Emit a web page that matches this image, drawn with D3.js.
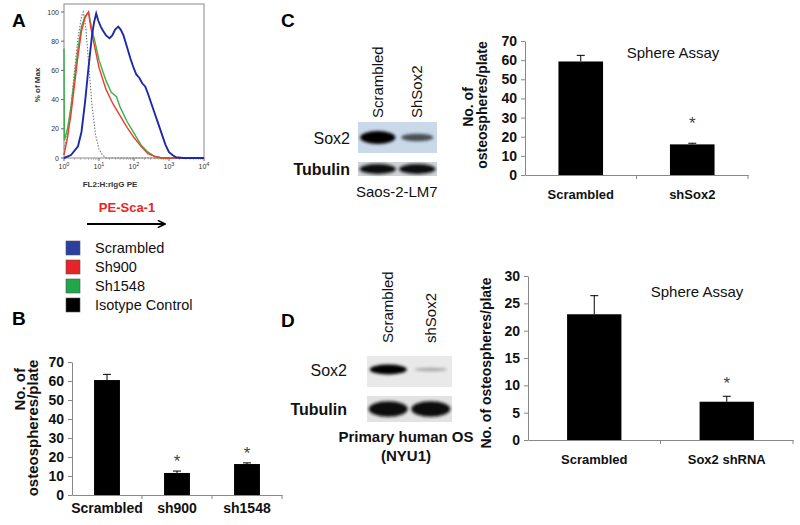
<!DOCTYPE html>
<html><head><meta charset="utf-8">
<script src="https://cdn.jsdelivr.net/npm/d3@7"></script>
<style>
body{margin:0;background:#fff;}
svg{font-family:"Liberation Sans",Arial,sans-serif;}
.ax path,.ax line{stroke:#888;stroke-width:1;}
.ax text{font-weight:bold;font-size:14px;fill:#111;}
</style></head><body>
<svg id="c" width="800" height="525"></svg>
<script>
// ---------- DATA ----------
// Panel A histogram: [log10(FL2), % of Max]
const histScrambled = [[0,0],[0.2,2],[0.4,8],[0.5,18],[0.6,38],[0.7,62],[0.8,84],[0.86,93],[0.92,99],[0.98,94],[1.05,90],[1.12,87],[1.2,84],[1.3,82],[1.38,84],[1.46,88],[1.55,90],[1.62,88],[1.7,84],[1.8,76],[1.9,68],[2.0,61],[2.07,57],[2.15,55],[2.24,51],[2.32,49],[2.4,44],[2.5,37],[2.6,30],[2.7,23],[2.8,16],[2.9,9],[3.0,4],[3.1,2],[3.2,0.5],[3.4,0],[4,0]];
const histSh900 = [[0,2],[0.1,14],[0.2,30],[0.3,50],[0.4,70],[0.5,87],[0.6,96],[0.7,100],[0.76,90],[0.86,78],[1.0,62],[1.2,47],[1.4,37],[1.6,29],[1.8,21],[2.0,14],[2.2,8],[2.4,3],[2.6,1],[2.8,0],[4,0]];
const histSh1548 = [[0,75],[0.01,12],[0.1,20],[0.2,35],[0.3,55],[0.4,75],[0.5,90],[0.6,97],[0.7,100],[0.8,88],[0.9,78],[1.0,67],[1.2,53],[1.35,45],[1.5,42],[1.6,35],[1.8,25],[2.0,17],[2.2,9],[2.4,4],[2.6,1],[2.8,0],[4,0]];
const histIsotype = [[0,6],[0.1,16],[0.2,36],[0.3,60],[0.4,82],[0.5,97],[0.55,100],[0.62,90],[0.7,66],[0.8,36],[0.9,16],[1.0,6],[1.1,2],[1.2,0],[4,0]];
const histYTicks = [0,20,40,60,80,100];
const histXTicks = [0,1,2,3,4];
const legendLabels = ["Scrambled","Sh900","Sh1548","Isotype Control"];

// Panel B
const catsB = ["Scrambled","sh900","sh1548"];
const valsB = [60.5,11.6,16.3];
const errB = [63.5,12.6,16.9];
const sigB = [false,true,true];
const ticksB = [0,10,20,30,40,50,60,70];

// Panel C
const catsC = ["Scrambled","shSox2"];
const valsC = [59.3,16.0];
const errC = [62.5,16.6];
const sigC = [false,true];
const ticksC = [0,10,20,30,40,50,60,70];

// Panel D
const catsD = ["Scrambled","Sox2 shRNA"];
const valsD = [23.0,7.0];
const errD = [26.4,8.0];
const sigD = [false,true];
const ticksD = [0,5,10,15,20,25,30];

// Western blots (band intensity 0..1)
const lanesC = ["Scrambled","ShSox2"];
const sox2C = [1.0,0.45];
const tubC = [1.0,1.0];
const lanesD = ["Scrambled","shSox2"];
const sox2D = [0.85,0.08];
const tubD = [1.0,1.0];

// ---------- DRAW ----------
const svg = d3.select("#c");
const F = '"Liberation Sans",Arial,sans-serif';
const defs = svg.append("defs");
defs.append("filter").attr("id","blur").attr("x","-30%").attr("y","-100%").attr("width","160%").attr("height","300%")
  .append("feGaussianBlur").attr("stdDeviation","1.6");

function label(t,x,y){svg.append("text").attr("x",x).attr("y",y).attr("font-size",19).attr("font-weight","bold").text(t);}
label("A",12,27); label("B",12,325); label("C",281,27); label("D",281,327);

// ---- Panel A ----
const hx = d3.scaleLinear().domain([0,4]).range([64,204]);
const hy = d3.scaleLinear().domain([0,100]).range([158,12]);
const gA = svg.append("g");
gA.append("rect").attr("x",64).attr("y",4).attr("width",140).attr("height",154).attr("fill","none").attr("stroke","#888").attr("stroke-width",1);
histYTicks.forEach(t=>{
  gA.append("line").attr("x1",61).attr("x2",64).attr("y1",hy(t)).attr("y2",hy(t)).attr("stroke","#666");
  gA.append("text").attr("x",59).attr("y",hy(t)+2.5).attr("text-anchor","end").attr("font-size",7).attr("fill","#333").text(t);
});
histXTicks.forEach(t=>{
  gA.append("line").attr("x1",hx(t)).attr("x2",hx(t)).attr("y1",158).attr("y2",161).attr("stroke","#666");
  const tx = gA.append("text").attr("x",hx(t)).attr("y",169).attr("text-anchor","middle").attr("font-size",7).attr("fill","#333");
  tx.append("tspan").text("10");
  tx.append("tspan").attr("dy",-3).attr("font-size",5.5).text(t);
});
for(let d=0; d<4; d++){for(let m=2;m<10;m++){const v=d+Math.log10(m);
  gA.append("line").attr("x1",hx(v)).attr("x2",hx(v)).attr("y1",158).attr("y2",160).attr("stroke","#999").attr("stroke-width",0.6);}}
gA.append("text").attr("transform","translate(40,85) rotate(-90)").attr("text-anchor","middle").attr("font-size",8).attr("font-weight","bold").attr("fill","#333").text("% of Max");
gA.append("text").attr("x",110).attr("y",187).attr("text-anchor","middle").attr("font-size",8).attr("font-weight","bold").attr("fill","#333").text("FL2:H:rIgG PE");
const line = d3.line().x(d=>hx(d[0])).y(d=>hy(d[1]));
gA.append("path").datum(histIsotype).attr("d",line).attr("fill","none").attr("stroke","#777").attr("stroke-width",1.1).attr("stroke-dasharray","1.5,1.5");
gA.append("path").datum(histSh1548).attr("d",line).attr("fill","none").attr("stroke","#3cb04a").attr("stroke-width",1.4);
gA.append("path").datum(histSh900).attr("d",line).attr("fill","none").attr("stroke","#f03a2e").attr("stroke-width",1.4);
gA.append("path").datum(histScrambled).attr("d",line).attr("fill","none").attr("stroke","#1c2aa8").attr("stroke-width",1.9);
gA.append("text").attr("x",127).attr("y",212).attr("text-anchor","middle").attr("font-size",13).attr("font-weight","bold").attr("fill","#ee2222").text("PE-Sca-1");
defs.append("marker").attr("id","ah").attr("viewBox","0 0 10 10").attr("refX",9).attr("refY",5)
  .attr("markerWidth",9).attr("markerHeight",9).attr("markerUnits","userSpaceOnUse").attr("orient","auto")
  .append("path").attr("d","M1,1 L9,5 L1,9").attr("fill","none").attr("stroke","#000").attr("stroke-width",1.8);
gA.append("line").attr("x1",87).attr("x2",165).attr("y1",224).attr("y2",224).attr("stroke","#000").attr("stroke-width",1.8).attr("marker-end","url(#ah)");
const legColors = ["#2a3f9e","#e8232a","#1fa84a","#000"];
legendLabels.forEach((l,i)=>{
  const y = 248 + i*19;
  gA.append("rect").attr("x",66).attr("y",y-7).attr("width",14).attr("height",14).attr("fill",legColors[i]).attr("stroke","#555").attr("stroke-width",0.6);
  gA.append("text").attr("x",95).attr("y",y+5).attr("font-size",14.5).attr("fill","#111").text(l);
});

// ---- Bar chart helper ----
function barChart(o){
  const g = svg.append("g");
  const xb = d3.scaleBand().domain(o.cats).range([o.x0,o.x1]).padding(0);
  const y = d3.scaleLinear().domain([o.ticks[0],o.ticks[o.ticks.length-1]]).range([o.y0,o.y1]);
  const ya = g.append("g").attr("class","ax").attr("transform",`translate(${o.x0},0)`)
    .call(d3.axisLeft(y).tickValues(o.ticks).tickSize(4).tickSizeOuter(0).tickPadding(4));
  ya.selectAll("text").attr("font-family",F);
  g.append("g").attr("class","ax").attr("transform",`translate(0,${o.y0})`)
    .call(d3.axisBottom(xb).tickValues([]).tickSizeOuter(0));
  xb.domain().slice(1).forEach(c=>{g.append("line").attr("x1",xb(c)).attr("x2",xb(c)).attr("y1",o.y0).attr("y2",o.y0+4).attr("stroke","#888");});
  g.append("line").attr("x1",o.x1).attr("x2",o.x1).attr("y1",o.y0).attr("y2",o.y0+4).attr("stroke","#888");
  const bw = xb.bandwidth()*o.bf;
  o.cats.forEach((c,i)=>{
    const cx = xb(c)+xb.bandwidth()/2;
    g.append("line").attr("x1",cx).attr("x2",cx).attr("y1",y(o.vals[i])).attr("y2",y(o.err[i])).attr("stroke","#000").attr("stroke-width",1);
    g.append("line").attr("x1",cx-4).attr("x2",cx+4).attr("y1",y(o.err[i])).attr("y2",y(o.err[i])).attr("stroke","#000").attr("stroke-width",1);
    g.append("rect").attr("x",cx-bw/2).attr("y",y(o.vals[i])).attr("width",bw).attr("height",o.y0-y(o.vals[i])).attr("fill","#000");
    g.append("text").attr("x",cx).attr("y",o.y0+o.labDy).attr("text-anchor","middle").attr("font-size",o.labFs).attr("font-weight","bold").attr("fill","#111").text(c);
    if(o.sig[i]) g.append("text").attr("x",cx).attr("y",y(o.err[i])-o.starDy).attr("text-anchor","middle").attr("font-size",17).attr("fill","#444").text("*");
  });
  return g;
}

barChart({cats:catsB,vals:valsB,err:errB,sig:sigB,ticks:ticksB,x0:72,x1:282,y0:495,y1:362,bf:0.37,labDy:18,labFs:14,starDy:4});
svg.append("text").attr("transform","translate(25,368) rotate(-90)").attr("text-anchor","end").attr("font-size",15).attr("font-weight","bold").attr("fill","#111").text("No. of");
svg.append("text").attr("transform","translate(38,428) rotate(-90)").attr("text-anchor","middle").attr("font-size",15).attr("font-weight","bold").attr("fill","#111").text("osteospheres/plate");

barChart({cats:catsC,vals:valsC,err:errC,sig:sigC,ticks:ticksC,x0:525,x1:748,y0:175,y1:41,bf:0.4,labDy:24,labFs:13,starDy:14});
svg.append("text").attr("transform","translate(473,107) rotate(-90)").attr("text-anchor","middle").attr("font-size",14).attr("font-weight","bold").attr("fill","#111").text("No. of");
svg.append("text").attr("transform","translate(487,105) rotate(-90)").attr("text-anchor","middle").attr("font-size",14).attr("font-weight","bold").attr("fill","#111").text("osteospheres/plate");
svg.append("text").attr("x",673).attr("y",58).attr("text-anchor","middle").attr("font-size",15).attr("fill","#111").text("Sphere Assay");

barChart({cats:catsD,vals:valsD,err:errD,sig:sigD,ticks:ticksD,x0:528,x1:793,y0:440,y1:276,bf:0.41,labDy:24,labFs:13,starDy:7});
svg.append("text").attr("transform","translate(491,363) rotate(-90)").attr("text-anchor","middle").attr("font-size",14).attr("font-weight","bold").attr("fill","#111").text("No. of osteospheres/plate");
svg.append("text").attr("x",697).attr("y",297).attr("text-anchor","middle").attr("font-size",15).attr("fill","#111").text("Sphere Assay");

// ---- Western blots ----
function blot(o){
  const g = svg.append("g");
  const xl = d3.scaleBand().domain(o.lanes).range([o.x0,o.x1]).paddingInner(0.06).paddingOuter(0.03);
  o.lanes.forEach(l=>{
    g.append("text").attr("transform",`translate(${xl(l)+xl.bandwidth()/2+5},${o.labY}) rotate(-90)`).attr("font-size",15).attr("fill","#111").text(l);
  });
  g.append("rect").attr("x",o.x0).attr("y",o.s0).attr("width",o.x1-o.x0).attr("height",o.s1-o.s0).attr("fill",o.bg1);
  o.sox.forEach((v,i)=>{
    const l=o.lanes[i], cx=xl(l)+xl.bandwidth()/2;
    g.append("ellipse").attr("cx",cx).attr("cy",(o.s0+o.s1)/2+o.sdy).attr("rx",xl.bandwidth()/2*(0.8+0.15*v)).attr("ry",1.5+o.sh*v)
      .attr("fill",d3.interpolateRgb(o.bg1,"#050505")(Math.min(1,0.2+v))).attr("filter","url(#blur)");
  });
  g.append("rect").attr("x",o.x0).attr("y",o.t0).attr("width",o.x1-o.x0).attr("height",o.t1-o.t0).attr("fill",o.bg2);
  o.tub.forEach((v,i)=>{
    const l=o.lanes[i], cx=xl(l)+xl.bandwidth()/2;
    g.append("ellipse").attr("cx",cx).attr("cy",(o.t0+o.t1)/2).attr("rx",xl.bandwidth()/2*0.98).attr("ry",(o.t1-o.t0)/2*o.tr)
      .attr("fill","#111").attr("filter","url(#blur)");
  });
  g.append("text").attr("x",o.lx).attr("y",(o.s0+o.s1)/2+6+o.sdy).attr("text-anchor","end").attr("font-size",16).attr("fill","#111").text("Sox2");
  g.append("text").attr("x",o.lx).attr("y",(o.t0+o.t1)/2+6).attr("text-anchor","end").attr("font-size",16).attr("font-weight","bold").attr("fill","#111").text("Tubulin");
}
blot({lanes:lanesC,sox:sox2C,tub:tubC,x0:358,x1:437,s0:122,s1:153,t0:162,t1:176,labY:118,lx:350,bg1:"#c9d9ea",bg2:"#cfd3d8",sdy:0,sh:5,tr:0.72});
svg.append("text").attr("x",356).attr("y",197).attr("font-size",15).attr("fill","#111").text("Saos-2-LM7");

blot({lanes:lanesD,sox:sox2D,tub:tubD,x0:367,x1:452,s0:356,s1:387,t0:396,t1:422,labY:343,lx:347,bg1:"#e9e9e9",bg2:"#e2e2e2",sdy:-2,sh:4,tr:0.6});
svg.append("text").attr("x",406).attr("y",442).attr("text-anchor","middle").attr("font-size",15).attr("font-weight","bold").attr("fill","#111").text("Primary human OS");
svg.append("text").attr("x",406).attr("y",461).attr("text-anchor","middle").attr("font-size",15).attr("font-weight","bold").attr("fill","#111").text("(NYU1)");
</script></body></html>
